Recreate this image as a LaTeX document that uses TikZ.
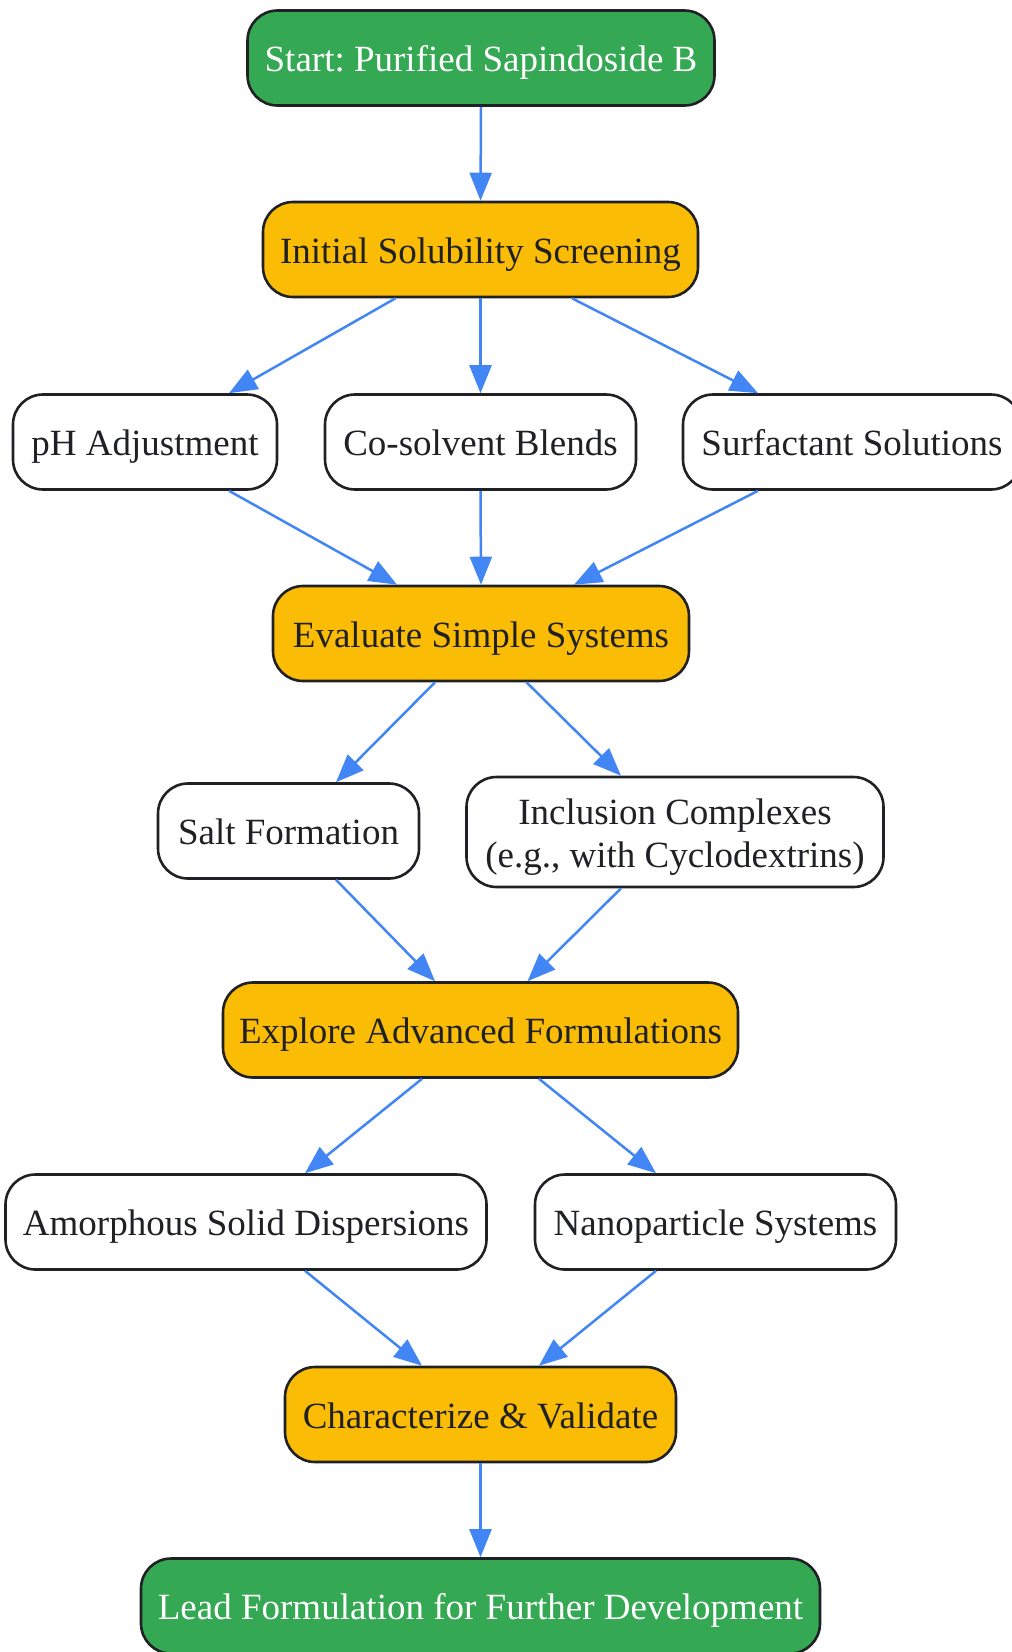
\documentclass[tikz,border=0pt]{standalone}
\usepackage{fontspec}
\setmainfont{Liberation Serif}
\frenchspacing
\usetikzlibrary{arrows.meta}
\definecolor{ggreen}{HTML}{34A853}
\definecolor{gyellow}{HTML}{FBBC05}
\definecolor{gblue}{HTML}{4285F4}
\definecolor{gdark}{HTML}{202124}
\tikzset{
  box/.style={draw=gdark, line width=2.6pt, rounded corners=30pt, rectangle,
    minimum height=95pt, inner sep=0pt, align=center, text=gdark,
    text height=35.5pt, text depth=8pt,
    font=\fontsize{37}{43.5}\selectfont},
  greenbox/.style={box, fill=ggreen, text=white},
  yellowbox/.style={box, fill=gyellow},
  whitebox/.style={box, fill=white},
  arr/.style={draw=gblue, line width=2.5pt, -{Triangle[length=28pt,width=22pt]}, fill=gblue},
}
\begin{document}
\begin{tikzpicture}[x=1pt,y=-1pt]
\useasboundingbox (0,0) rectangle (1012,1652);
\clip (0,0) rectangle (1012,1652);
\node[greenbox, minimum width=467pt] (start) at (481,58) {Start: Purified Sapindoside B};
\node[yellowbox, minimum width=435pt] (init) at (480.5,249.5) {Initial Solubility Screening};
\node[whitebox, minimum width=264pt] (ph) at (145,442) {pH Adjustment};
\node[whitebox, minimum width=311pt] (co) at (480.5,442) {Co-solvent Blends};
\node[whitebox, minimum width=338pt] (surf) at (852,442) {Surfactant Solutions};
\node[yellowbox, minimum width=416pt] (eval) at (481,633.5) {Evaluate Simple Systems};
\node[whitebox, minimum width=261pt] (salt) at (288.5,831) {Salt Formation};
\node[whitebox, minimum width=417pt, minimum height=110pt, text height=, text depth=] (incl) at (675,832) {\rule{0pt}{36pt}Inclusion Complexes\\(e.g., with Cyclodextrins)};
\node[yellowbox, minimum width=515pt] (expl) at (480.5,1030) {Explore Advanced Formulations};
\node[whitebox, minimum width=481pt] (amor) at (246,1222) {Amorphous Solid Dispersions};
\node[whitebox, minimum width=361pt] (nano) at (715.5,1222) {Nanoparticle Systems};
\node[yellowbox, minimum width=391pt] (char) at (480.5,1414.5) {Characterize \& Validate};
\node[greenbox, minimum width=679pt] (lead) at (480.5,1606) {Lead Formulation for Further Development};

\draw[arr] (start.south) -- (init.north);
\draw[arr] ([xshift=-85pt]init.south) -- ([xshift=84pt]ph.north);
\draw[arr] (init.south) -- (co.north);
\draw[arr] ([xshift=91.5pt]init.south) -- ([xshift=-94pt]surf.north);
\draw[arr] ([xshift=84pt]ph.south) -- ([xshift=-84pt]eval.north);
\draw[arr] (co.south) -- (eval.north);
\draw[arr] ([xshift=-94pt]surf.south) -- ([xshift=93pt]eval.north);
\draw[arr] ([xshift=-46pt]eval.south) -- ([xshift=47.5pt]salt.north);
\draw[arr] ([xshift=45.5pt]eval.south) -- ([xshift=-54pt]incl.north);
\draw[arr] ([xshift=47.5pt]salt.south) -- ([xshift=-45.5pt]expl.north);
\draw[arr] ([xshift=-54pt]incl.south) -- ([xshift=47pt]expl.north);
\draw[arr] ([xshift=-58.5pt]expl.south) -- ([xshift=59pt]amor.north);
\draw[arr] ([xshift=58.5pt]expl.south) -- ([xshift=-59.5pt]nano.north);
\draw[arr] ([xshift=59pt]amor.south) -- ([xshift=-58.5pt]char.north);
\draw[arr] ([xshift=-59.5pt]nano.south) -- ([xshift=58.5pt]char.north);
\draw[arr] (char.south) -- (lead.north);
\end{tikzpicture}
\end{document}
